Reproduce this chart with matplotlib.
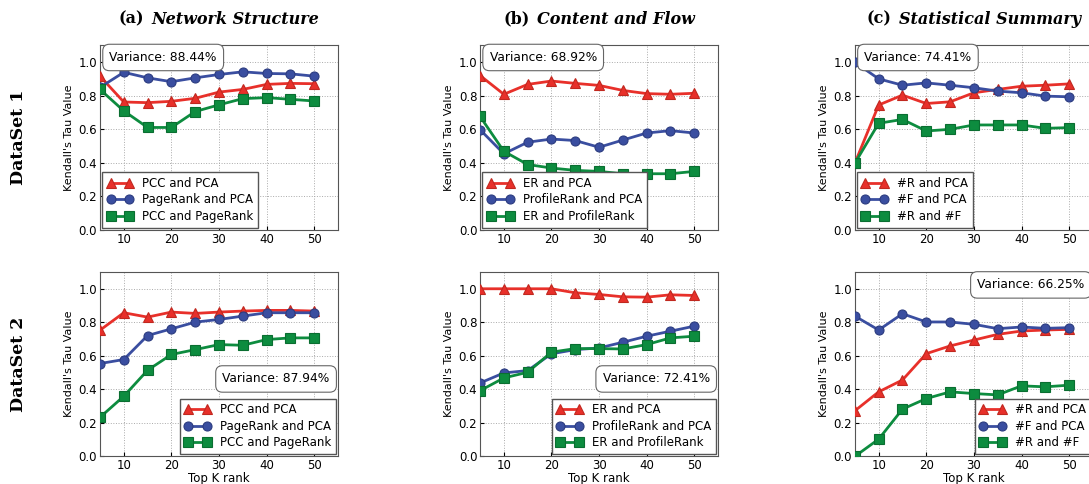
import matplotlib
matplotlib.use("Agg")
import matplotlib.pyplot as plt
from matplotlib.offsetbox import TextArea, HPacker, AnnotationBbox

# top K rank
k = [5, 10, 15, 20, 25, 30, 35, 40, 45, 50]

# DataSet 1
net1_pcc_pca = [0.917, 0.763, 0.759, 0.767, 0.785, 0.822, 0.838, 0.868, 0.874, 0.872]
net1_pr_pca = [0.850, 0.940, 0.907, 0.884, 0.907, 0.927, 0.943, 0.933, 0.931, 0.917]
net1_pcc_pr = [0.838, 0.710, 0.611, 0.611, 0.706, 0.746, 0.783, 0.789, 0.779, 0.769]

con1_er_pca = [0.921, 0.809, 0.868, 0.888, 0.874, 0.862, 0.832, 0.813, 0.809, 0.815]
con1_prof_pca = [0.598, 0.454, 0.523, 0.542, 0.533, 0.493, 0.536, 0.578, 0.592, 0.578]
con1_er_prof = [0.677, 0.469, 0.390, 0.369, 0.355, 0.349, 0.335, 0.335, 0.335, 0.349]

sta1_r_pca = [0.398, 0.745, 0.804, 0.754, 0.764, 0.818, 0.838, 0.857, 0.863, 0.871]
sta1_f_pca = [1.000, 0.901, 0.863, 0.877, 0.863, 0.848, 0.828, 0.818, 0.798, 0.794]
sta1_r_f = [0.398, 0.636, 0.659, 0.590, 0.600, 0.626, 0.626, 0.626, 0.606, 0.610]

# DataSet 2
net2_pcc_pca = [0.753, 0.857, 0.831, 0.861, 0.853, 0.861, 0.867, 0.871, 0.871, 0.867]
net2_pr_pca = [0.554, 0.578, 0.721, 0.761, 0.801, 0.817, 0.837, 0.857, 0.857, 0.857]
net2_pcc_pr = [0.233, 0.359, 0.514, 0.608, 0.637, 0.667, 0.663, 0.697, 0.707, 0.707]

con2_er_pca = [1.000, 1.000, 1.000, 1.000, 0.976, 0.966, 0.952, 0.950, 0.964, 0.960]
con2_prof_pca = [0.438, 0.498, 0.512, 0.612, 0.637, 0.647, 0.681, 0.717, 0.747, 0.777]
con2_er_prof = [0.392, 0.468, 0.502, 0.622, 0.643, 0.643, 0.641, 0.667, 0.707, 0.717]

sta2_r_pca = [0.272, 0.385, 0.456, 0.613, 0.659, 0.694, 0.728, 0.748, 0.754, 0.758]
sta2_f_pca = [0.837, 0.754, 0.851, 0.802, 0.802, 0.788, 0.762, 0.772, 0.764, 0.768]
sta2_r_f = [0.000, 0.103, 0.282, 0.345, 0.385, 0.375, 0.367, 0.421, 0.415, 0.425]

titles = [("(a)", "Network Structure"), ("(b)", "Content and Flow"), ("(c)", "Statistical Summary")]
row_labels = ["DataSet 1", "DataSet 2"]
labels = [
    ["PCC and PCA", "PageRank and PCA", "PCC and PageRank"],
    ["ER and PCA", "ProfileRank and PCA", "ER and ProfileRank"],
    ["#R and PCA", "#F and PCA", "#R and #F"],
]
variances = [["Variance: 88.44%", "Variance: 68.92%", "Variance: 74.41%"],
             ["Variance: 87.94%", "Variance: 72.41%", "Variance: 66.25%"]]
data = [
    [(net1_pcc_pca, net1_pr_pca, net1_pcc_pr),
     (con1_er_pca, con1_prof_pca, con1_er_prof),
     (sta1_r_pca, sta1_f_pca, sta1_r_f)],
    [(net2_pcc_pca, net2_pr_pca, net2_pcc_pr),
     (con2_er_pca, con2_prof_pca, con2_er_prof),
     (sta2_r_pca, sta2_f_pca, sta2_r_f)],
]

colors = ["#e8302a", "#3a4ea0", "#0d8c3f"]
edges = ["#c0281f", "#2c3c80", "#0a6e31"]
markers = ["^", "o", "s"]

fig = plt.figure(figsize=(10.89, 4.84), dpi=100)
lefts = [0.0918, 0.4408, 0.785]
bottoms = [0.525, 0.057]
w, h = 0.2186, 0.381

for r in range(2):
    for c in range(3):
        ax = fig.add_axes([lefts[c], bottoms[r], w, h])
        for i, ys in enumerate(data[r][c]):
            ax.plot(k, ys, color=colors[i], marker=markers[i], markersize=6.5,
                    markeredgecolor=edges[i], markeredgewidth=0.8, linewidth=2,
                    label=labels[c][i], zorder=3 + i * 0.1)
        ax.set_xlim(5, 55)
        ax.set_ylim(0, 1.1)
        ax.set_xticks([10, 20, 30, 40, 50])
        ax.set_yticks([0.0, 0.2, 0.4, 0.6, 0.8, 1.0])
        ax.set_yticklabels(["0.0", "0.2", "0.4", "0.6", "0.8", "1.0"])
        ax.tick_params(labelsize=8.5, direction="in", length=3, pad=2)
        ax.grid(True, linestyle=":", color="#aaaaaa", linewidth=0.7)
        for s in ax.spines.values():
            s.set_color("#555555")
        ax.set_ylabel("Kendall's Tau Value", fontsize=8, labelpad=3)
        if r == 1:
            ax.set_xlabel("Top K rank", fontsize=8.5, labelpad=0)

        bbox = dict(boxstyle="round,pad=0.55", fc="white", ec="#666666", lw=0.8)
        if r == 0:
            ax.text(0.04, 0.935, variances[r][c], transform=ax.transAxes, fontsize=8.8,
                    ha="left", va="center", bbox=bbox, zorder=10)
            loc = "lower left"
        else:
            if c < 2:
                ax.text(0.965, 0.42, variances[r][c], transform=ax.transAxes, fontsize=8.8,
                        ha="right", va="center", bbox=bbox, zorder=10)
            else:
                ax.text(0.965, 0.93, variances[r][c], transform=ax.transAxes, fontsize=8.8,
                        ha="right", va="center", bbox=bbox, zorder=10)
            loc = "lower right"
        leg = ax.legend(loc=loc, fontsize=8.5, numpoints=2, handlelength=2.2,
                        fancybox=False, framealpha=1, borderpad=0.4,
                        labelspacing=0.3, borderaxespad=0.2)
        leg.get_frame().set_edgecolor("#555555")
        leg.set_zorder(10)

        if r == 0:
            t1 = TextArea(titles[c][0], textprops=dict(family="DejaVu Serif", weight="bold", size=11.5))
            t2 = TextArea(titles[c][1], textprops=dict(family="DejaVu Serif", weight="bold",
                                                       style="italic", size=11.5))
            box = HPacker(children=[t1, t2], align="baseline", pad=0, sep=5)
            ab = AnnotationBbox(box, (0.5, 1.0), xycoords="axes fraction",
                                xybox=(0, 19), boxcoords="offset points",
                                frameon=False, box_alignment=(0.5, 0.5))
            ax.add_artist(ab)

for r in range(2):
    fig.text(0.017, bottoms[r] + h / 2, row_labels[r], rotation=90, ha="center", va="center",
             family="DejaVu Serif", weight="bold", size=12.5)

fig.savefig("out.png", dpi=100)
